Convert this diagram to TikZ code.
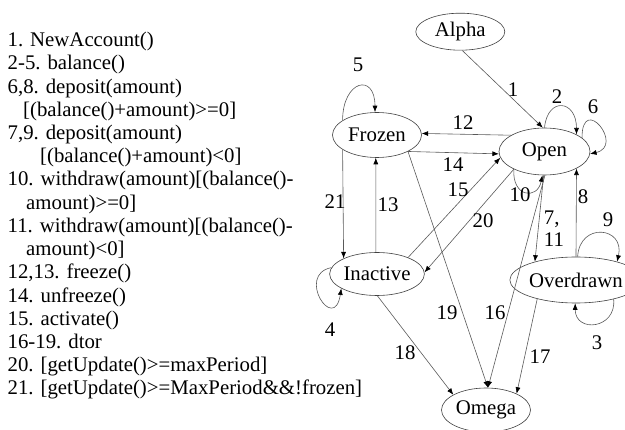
\documentclass[tikz,border=0pt]{standalone}
\usepackage{fontspec}
\setmainfont{Liberation Serif}
\usetikzlibrary{shapes.geometric,arrows.meta}
\begin{document}
\begin{tikzpicture}[x=1pt,y=-1pt,
  every node/.style={font=\fontsize{20.8}{23}\selectfont},
  state/.style={ellipse,draw=black!75,line width=0.6pt,inner sep=0pt},
  legend/.style={anchor=base west,inner sep=0pt},
  lbl/.style={inner sep=0pt},
  edge/.style={draw=black!65,line width=0.6pt,-{Latex[length=6.5pt,width=5pt,color=black]}},
  plain/.style={draw=black!65,line width=0.6pt}
]
\useasboundingbox (0,0) rectangle (625,430);

% legend
\node[legend] (t1)  at (7.5,46.7)  {1. NewAccount()};
\node[legend] (t2)  at (7.5,69.9)  {2-5. balance()};
\node[legend] (t3)  at (7.5,93.1)  {6,8. deposit(amount)};
\node[legend] (t4)  at (23,116.4)  {[(balance()+amount)>=0]};
\node[legend] (t5)  at (7.5,139.6) {7,9. deposit(amount)};
\node[legend] (t6)  at (40,162.8)  {[(balance()+amount)<0]};
\node[legend] (t7)  at (7.5,186.0) {10. withdraw(amount)[(balance()-};
\node[legend] (t8)  at (26,209.2)  {amount)>=0]};
\node[legend] (t9)  at (7.5,232.5) {11. withdraw(amount)[(balance()-};
\node[legend] (t10) at (26,255.7)  {amount)<0]};
\node[legend] (t11) at (7.5,278.9) {12,13. freeze()};
\node[legend] (t12) at (7.5,302.1) {14. unfreeze()};
\node[legend] (t13) at (7.5,325.3) {15. activate()};
\node[legend] (t14) at (7.5,348.6) {16-19. dtor};
\node[legend] (t15) at (7.5,371.8) {20. [getUpdate()>=maxPeriod]};
\node[legend] (t16) at (7.5,395.0) {21. [getUpdate()>=MaxPeriod\&\&!frozen]};

% states
\node[state,minimum width=89pt,minimum height=37pt] (alpha) at (460.3,31.7) {Alpha};
\node[state,minimum width=89pt,minimum height=45pt] (frozen) at (377,135) {Frozen};
\node[state,minimum width=91pt,minimum height=47pt] (open) at (544.5,151.5) {Open};
\node[state,minimum width=90pt,minimum height=43pt] (inactive) at (377,274) {Inactive};
\node[state,minimum width=106pt,minimum height=46pt] (overdrawn) at (576,280) {Overdrawn};
\node[state,minimum width=89pt,minimum height=44pt] (omega) at (486,410) {Omega};

% transitions
\draw[edge] (alpha.-84) -- (open.94);
\draw[edge] (open.90) .. controls +(3,-31) and +(0,-35) .. (open.28);
\draw[edge] (open.20) .. controls +(0,-45) and +(35,-8) .. (open.-3);
\draw[edge] (open.210) .. controls +(-2,28) and +(-5,25) .. (open.265);
\draw[edge] (open.154) -- (frozen.2);
\draw[edge] (frozen.-28) -- (open.183);
\draw[edge] (inactive.28.6) -- (open.188);
\draw[edge] (open.210) -- (inactive.2);
\draw[edge] (open.268) -- (overdrawn.156);
\draw[edge] (overdrawn.90) -- (open.-28.5);
\draw[edge] (overdrawn.86) .. controls +(2,-35) and +(8,-35) .. (overdrawn.24);
\draw[edge] (overdrawn.-27) .. controls +(3,30) and +(0,30) .. (overdrawn.268);
\draw[edge] (open.271) -- (omega.85);
\draw[edge] (overdrawn.206.6) -- (omega.28);
\draw[edge] (inactive.-89) -- (omega.155);
\draw[edge] (frozen.-28) -- (omega.85);
\draw[edge] (frozen.203) -- (inactive.155);
\draw[edge] (inactive.93) -- (frozen.-93);
\draw[edge] (frozen.157) .. controls +(0,-40) and +(0,-40) .. (frozen.95);
\draw[edge] (inactive.172) .. controls +(-36,7) and +(-7,46) .. (inactive.202);

% transition labels
\node[lbl] (n1)  at (513,90)   {1};
\node[lbl] (n2)  at (557,97)   {2};
\node[lbl] (n6)  at (593,107)  {6};
\node[lbl] (n5)  at (358,65)   {5};
\node[lbl] (n12) at (463,123)  {12};
\node[lbl] (n14) at (453,165)  {14};
\node[lbl] (n15) at (458,190)  {15};
\node[lbl] (n10) at (520,195)  {10};
\node[lbl] (n20) at (483,221)  {20};
\node[lbl] (n21) at (335,202)  {21};
\node[lbl] (n13) at (388,205)  {13};
\node[lbl,align=left,font=\fontsize{20.8}{22}\selectfont] (n7) at (554,229) {7,\\11};
\node[lbl] (n8)  at (583,197)  {8};
\node[lbl] (n9)  at (608,220)  {9};
\node[lbl] (n3)  at (597,343)  {3};
\node[lbl] (n4)  at (330,330)  {4};
\node[lbl] (n19) at (447,313)  {19};
\node[lbl] (n16) at (495,313)  {16};
\node[lbl] (n18) at (405,353)  {18};
\node[lbl] (n17) at (540,357)  {17};
\end{tikzpicture}
\end{document}
